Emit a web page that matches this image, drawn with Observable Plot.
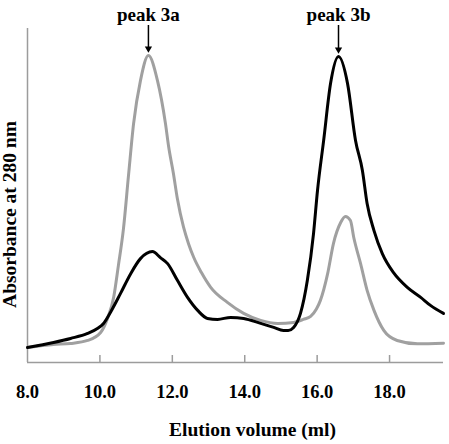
<!DOCTYPE html>
<html>
<head>
<meta charset="utf-8">
<script src="https://cdn.jsdelivr.net/npm/d3@7"></script>
<script src="https://cdn.jsdelivr.net/npm/@observablehq/plot@0.6"></script>
<style>
  body { margin: 0; background: #fff; }
</style>
</head>
<body>
<div id="chart"></div>
<script>
// Elution profiles (absorbance at 280 nm, relative units) vs elution volume (ml)
const grayVolume = [8.00, 8.72, 9.19, 9.66, 10.02, 10.21, 10.38, 10.51, 10.65, 10.79, 10.93, 11.12, 11.34, 11.59, 11.81, 11.90, 12.03, 12.14, 12.31, 12.45, 12.59, 12.80, 13.06, 13.52, 13.97, 14.44, 14.91, 15.35, 15.62, 15.82, 15.98, 16.09, 16.29, 16.45, 16.65, 16.78, 16.92, 17.01, 17.20, 17.38, 17.57, 17.84, 18.21, 18.77, 19.49];
const grayAbsorbance = [0.045, 0.054, 0.057, 0.066, 0.090, 0.132, 0.195, 0.290, 0.400, 0.560, 0.715, 0.844, 0.919, 0.844, 0.716, 0.645, 0.566, 0.490, 0.405, 0.355, 0.315, 0.270, 0.225, 0.180, 0.147, 0.126, 0.117, 0.120, 0.129, 0.138, 0.160, 0.186, 0.266, 0.356, 0.419, 0.437, 0.425, 0.375, 0.296, 0.216, 0.156, 0.096, 0.066, 0.056, 0.058];

const blackVolume = [8.00, 8.72, 9.19, 9.66, 9.93, 10.10, 10.29, 10.57, 10.85, 11.12, 11.45, 11.67, 11.87, 12.14, 12.42, 12.70, 12.97, 13.25, 13.61, 13.97, 14.44, 14.80, 15.07, 15.20, 15.35, 15.54, 15.73, 15.90, 16.01, 16.18, 16.37, 16.59, 16.84, 17.06, 17.25, 17.38, 17.57, 17.80, 18.11, 18.49, 18.86, 19.13, 19.49];
const blackAbsorbance = [0.045, 0.060, 0.072, 0.087, 0.102, 0.117, 0.150, 0.207, 0.266, 0.311, 0.332, 0.314, 0.296, 0.246, 0.195, 0.156, 0.132, 0.129, 0.135, 0.132, 0.117, 0.105, 0.096, 0.096, 0.105, 0.147, 0.246, 0.386, 0.515, 0.665, 0.835, 0.916, 0.835, 0.665, 0.575, 0.476, 0.395, 0.326, 0.269, 0.225, 0.195, 0.171, 0.147];

const xTicks = [8, 10, 12, 14, 16, 18];
const peakNames = ["peak 3a", "peak 3b"];

const gray = grayVolume.map((v, i) => ({v, a: grayAbsorbance[i]}));
const black = blackVolume.map((v, i) => ({v, a: blackAbsorbance[i]}));

// apex of each profile carries its peak label
const apex = (s) => s.reduce((m, d) => (d.a > m.a ? d : m));
const peaks = [
  {name: peakNames[0], ...apex(gray)},
  {name: peakNames[1], ...apex(black)}
];

const W = 449, H = 444;
const mL = 27, mR = 6, mT = 28, mB = 82;
const frameH = H - mT - mB;
const axisColor = "#9c9c9c";
const serif = "'Liberation Serif', 'Times New Roman', Times, serif";

const chart = Plot.plot({
  width: W,
  height: H,
  marginLeft: mL,
  marginRight: mR,
  marginTop: mT,
  marginBottom: mB,
  style: {fontFamily: serif, fontWeight: "bold", background: "#fff", color: "#000"},
  x: {domain: [8, 19.49], axis: null},
  y: {domain: [0, 1], axis: null},
  marks: [
    // axis lines
    Plot.ruleX([8], {stroke: axisColor, strokeWidth: 1.5}),
    Plot.ruleY([0], {stroke: axisColor, strokeWidth: 1.5}),
    // inward tick marks
    Plot.tickX(xTicks.slice(1), {x: (d) => d, stroke: axisColor, strokeWidth: 1.5, insetTop: frameH - 7}),
    // tick labels
    Plot.axisX({ticks: xTicks, tickSize: 0, tickPadding: 22, fontSize: 18.5, tickFormat: (d) => d.toFixed(1), label: null}),
    // axis titles
    Plot.text(["Elution volume (ml)"], {frameAnchor: "bottom", dy: 67, dx: 17, fontSize: 19.5, lineAnchor: "middle"}),
    Plot.text(["Absorbance at 280 nm"], {frameAnchor: "left", textAnchor: "middle", rotate: -90, dx: -18, dy: 19, fontSize: 19.5, lineAnchor: "middle"}),
    // profiles
    Plot.line(gray, {x: "v", y: "a", stroke: "#a0a0a0", strokeWidth: 3, curve: "monotone-x"}),
    Plot.line(black, {x: "v", y: "a", stroke: "#000", strokeWidth: 3, curve: "monotone-x"}),
    // peak annotations
    Plot.ruleX(peaks, {x: "v", y1: () => 1, y2: "a", stroke: "#000", strokeWidth: 1.5, insetTop: -3, insetBottom: 8}),
    Plot.dot(peaks, {x: "v", y: "a", symbol: "triangle", rotate: 180, r: 2.7, fill: "#000", stroke: null, dy: -7}),
    Plot.text(peaks, {x: "v", text: "name", frameAnchor: "top", lineAnchor: "bottom", dy: -8, fontSize: 19})
  ]
});

document.getElementById("chart").appendChild(chart);
</script>
</body>
</html>
